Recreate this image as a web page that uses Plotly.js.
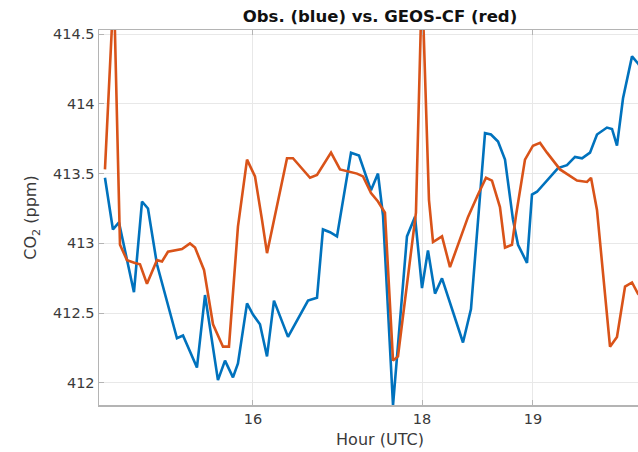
<!DOCTYPE html>
<html>
<head>
<meta charset="utf-8">
<script src="https://cdn.plot.ly/plotly-3.0.1.min.js"></script>
<style>
  html, body { margin: 0; padding: 0; width: 638px; height: 452px; overflow: hidden; background: #fff; }
  #chart { width: 700px; height: 452px; }
</style>
</head>
<body>
<div id="chart"></div>
<script>
// Observations (blue)
const obsT = [14.238, 14.333, 14.405, 14.583, 14.679, 14.750, 14.857, 15.095, 15.167, 15.333,
  15.429, 15.583, 15.667, 15.762, 15.821, 15.929, 16.000, 16.083, 16.167, 16.250,
  16.417, 16.655, 16.762, 16.833, 16.917, 17.000, 17.167, 17.262, 17.405, 17.488,
  17.548, 17.667, 17.833, 17.929, 18.012, 18.083, 18.167, 18.250, 18.500, 18.595,
  18.762, 18.833, 18.917, 19.000, 19.095, 19.155, 19.262, 19.321, 19.381, 19.631,
  19.738, 19.833, 19.917, 20.012, 20.095, 20.214, 20.274, 20.333, 20.405, 20.512,
  20.583, 20.667];
const obsCO2 = [413.47, 413.10, 413.15, 412.65, 413.30, 413.25, 412.85, 412.32, 412.34, 412.11,
  412.63, 412.02, 412.16, 412.04, 412.14, 412.57, 412.49, 412.42, 412.19, 412.59,
  412.33, 412.59, 412.61, 413.10, 413.08, 413.05, 413.65, 413.63, 413.38, 413.50,
  413.20, 411.84, 413.05, 413.19, 412.68, 412.95, 412.64, 412.75, 412.29, 412.53,
  413.79, 413.78, 413.73, 413.60, 413.17, 412.99, 412.86, 413.35, 413.37, 413.54,
  413.56, 413.62, 413.61, 413.65, 413.78, 413.83, 413.82, 413.70, 414.04, 414.34,
  414.29, 414.21];

// GEOS-CF model (red)
const cfT = [14.238, 14.344, 14.417, 14.500, 14.595, 14.655, 14.738, 14.857, 14.917, 14.988,
  15.155, 15.250, 15.310, 15.417, 15.524, 15.643, 15.714, 15.821, 15.929, 16.024,
  16.107, 16.167, 16.405, 16.476, 16.679, 16.762, 16.929, 17.036, 17.238, 17.310,
  17.405, 17.488, 17.571, 17.667, 17.726, 17.940, 18.012, 18.095, 18.143, 18.250,
  18.345, 18.560, 18.679, 18.774, 18.845, 18.940, 19.000, 19.083, 19.131, 19.238,
  19.333, 19.417, 19.500, 19.655, 19.857, 19.976, 20.024, 20.095, 20.250, 20.333,
  20.429, 20.512, 20.583, 20.667];
const cfCO2 = [413.53, 414.84, 412.99, 412.88, 412.86, 412.85, 412.71, 412.88, 412.87, 412.94,
  412.96, 413.00, 412.97, 412.81, 412.42, 412.26, 412.26, 413.12, 413.60, 413.48,
  413.17, 412.93, 413.61, 413.61, 413.47, 413.49, 413.65, 413.53, 413.50, 413.48,
  413.36, 413.30, 413.22, 412.16, 412.19, 413.22, 414.89, 413.31, 413.01, 413.05,
  412.83, 413.19, 413.35, 413.47, 413.45, 413.26, 412.97, 412.99, 413.20, 413.60,
  413.70, 413.72, 413.65, 413.53, 413.45, 413.44, 413.47, 413.24, 412.26, 412.33,
  412.69, 412.72, 412.64, 412.59];

const xTickVals = [16, 18.012, 19.333];
const xTickText = ['16', '18', '19'];
const yTickVals = [412, 412.5, 413, 413.5, 414, 414.5];
const yTickText = ['412', '412.5', '413', '413.5', '414', '414.5'];

const FONT = 'DejaVu Sans, sans-serif';
const AX = '#b4b4b4';

const traces = [
  { x: obsT, y: obsCO2, type: 'scatter', mode: 'lines', name: 'Obs.',
    line: { color: '#0072BD', width: 2.6 } },
  { x: cfT, y: cfCO2, type: 'scatter', mode: 'lines', name: 'GEOS-CF',
    line: { color: '#D95319', width: 2.6 } }
];

const layout = {
  width: 700, height: 452,
  margin: { l: 99, r: 39, t: 30, b: 47, pad: 0 },
  paper_bgcolor: '#fff', plot_bgcolor: '#fff',
  showlegend: false,
  font: { family: FONT, color: '#3a3a3a', size: 14.5 },
  title: { text: 'Obs. (blue) vs. GEOS-CF (red)', font: { family: FONT, size: 16.5, weight: 'bold', color: '#111' },
           xref: 'paper', x: 0.5, xanchor: 'center', yref: 'container', y: 1 - 16 / 452, yanchor: 'middle' },
  xaxis: {
    range: [14.167, 20.857], tickvals: xTickVals, ticktext: xTickText,
    showgrid: true, gridcolor: '#e8e8e8', gridwidth: 1,
    zeroline: false, showline: true, linecolor: AX, linewidth: 1.5, mirror: 'ticks',
    ticks: 'inside', ticklen: 5, tickcolor: AX, tickwidth: 1,
    tickfont: { family: FONT, size: 14.5, color: '#3a3a3a' },
    title: { text: 'Hour (UTC)', font: { family: FONT, size: 16, color: '#3a3a3a' }, standoff: 8 }
  },
  yaxis: {
    range: [411.842, 414.529], tickvals: yTickVals, ticktext: yTickText,
    showgrid: true, gridcolor: '#e8e8e8', gridwidth: 1,
    zeroline: false, showline: true, linecolor: AX, linewidth: 1.5, mirror: 'ticks',
    ticks: 'inside', ticklen: 5, tickcolor: AX, tickwidth: 1,
    tickfont: { family: FONT, size: 14.5, color: '#3a3a3a' },
    title: { text: 'CO<sub>2</sub> (ppm)', font: { family: FONT, size: 16, color: '#3a3a3a' }, standoff: 12 }
  }
};

Plotly.newPlot('chart', traces, layout, { displayModeBar: false, staticPlot: true });
</script>
</body>
</html>
